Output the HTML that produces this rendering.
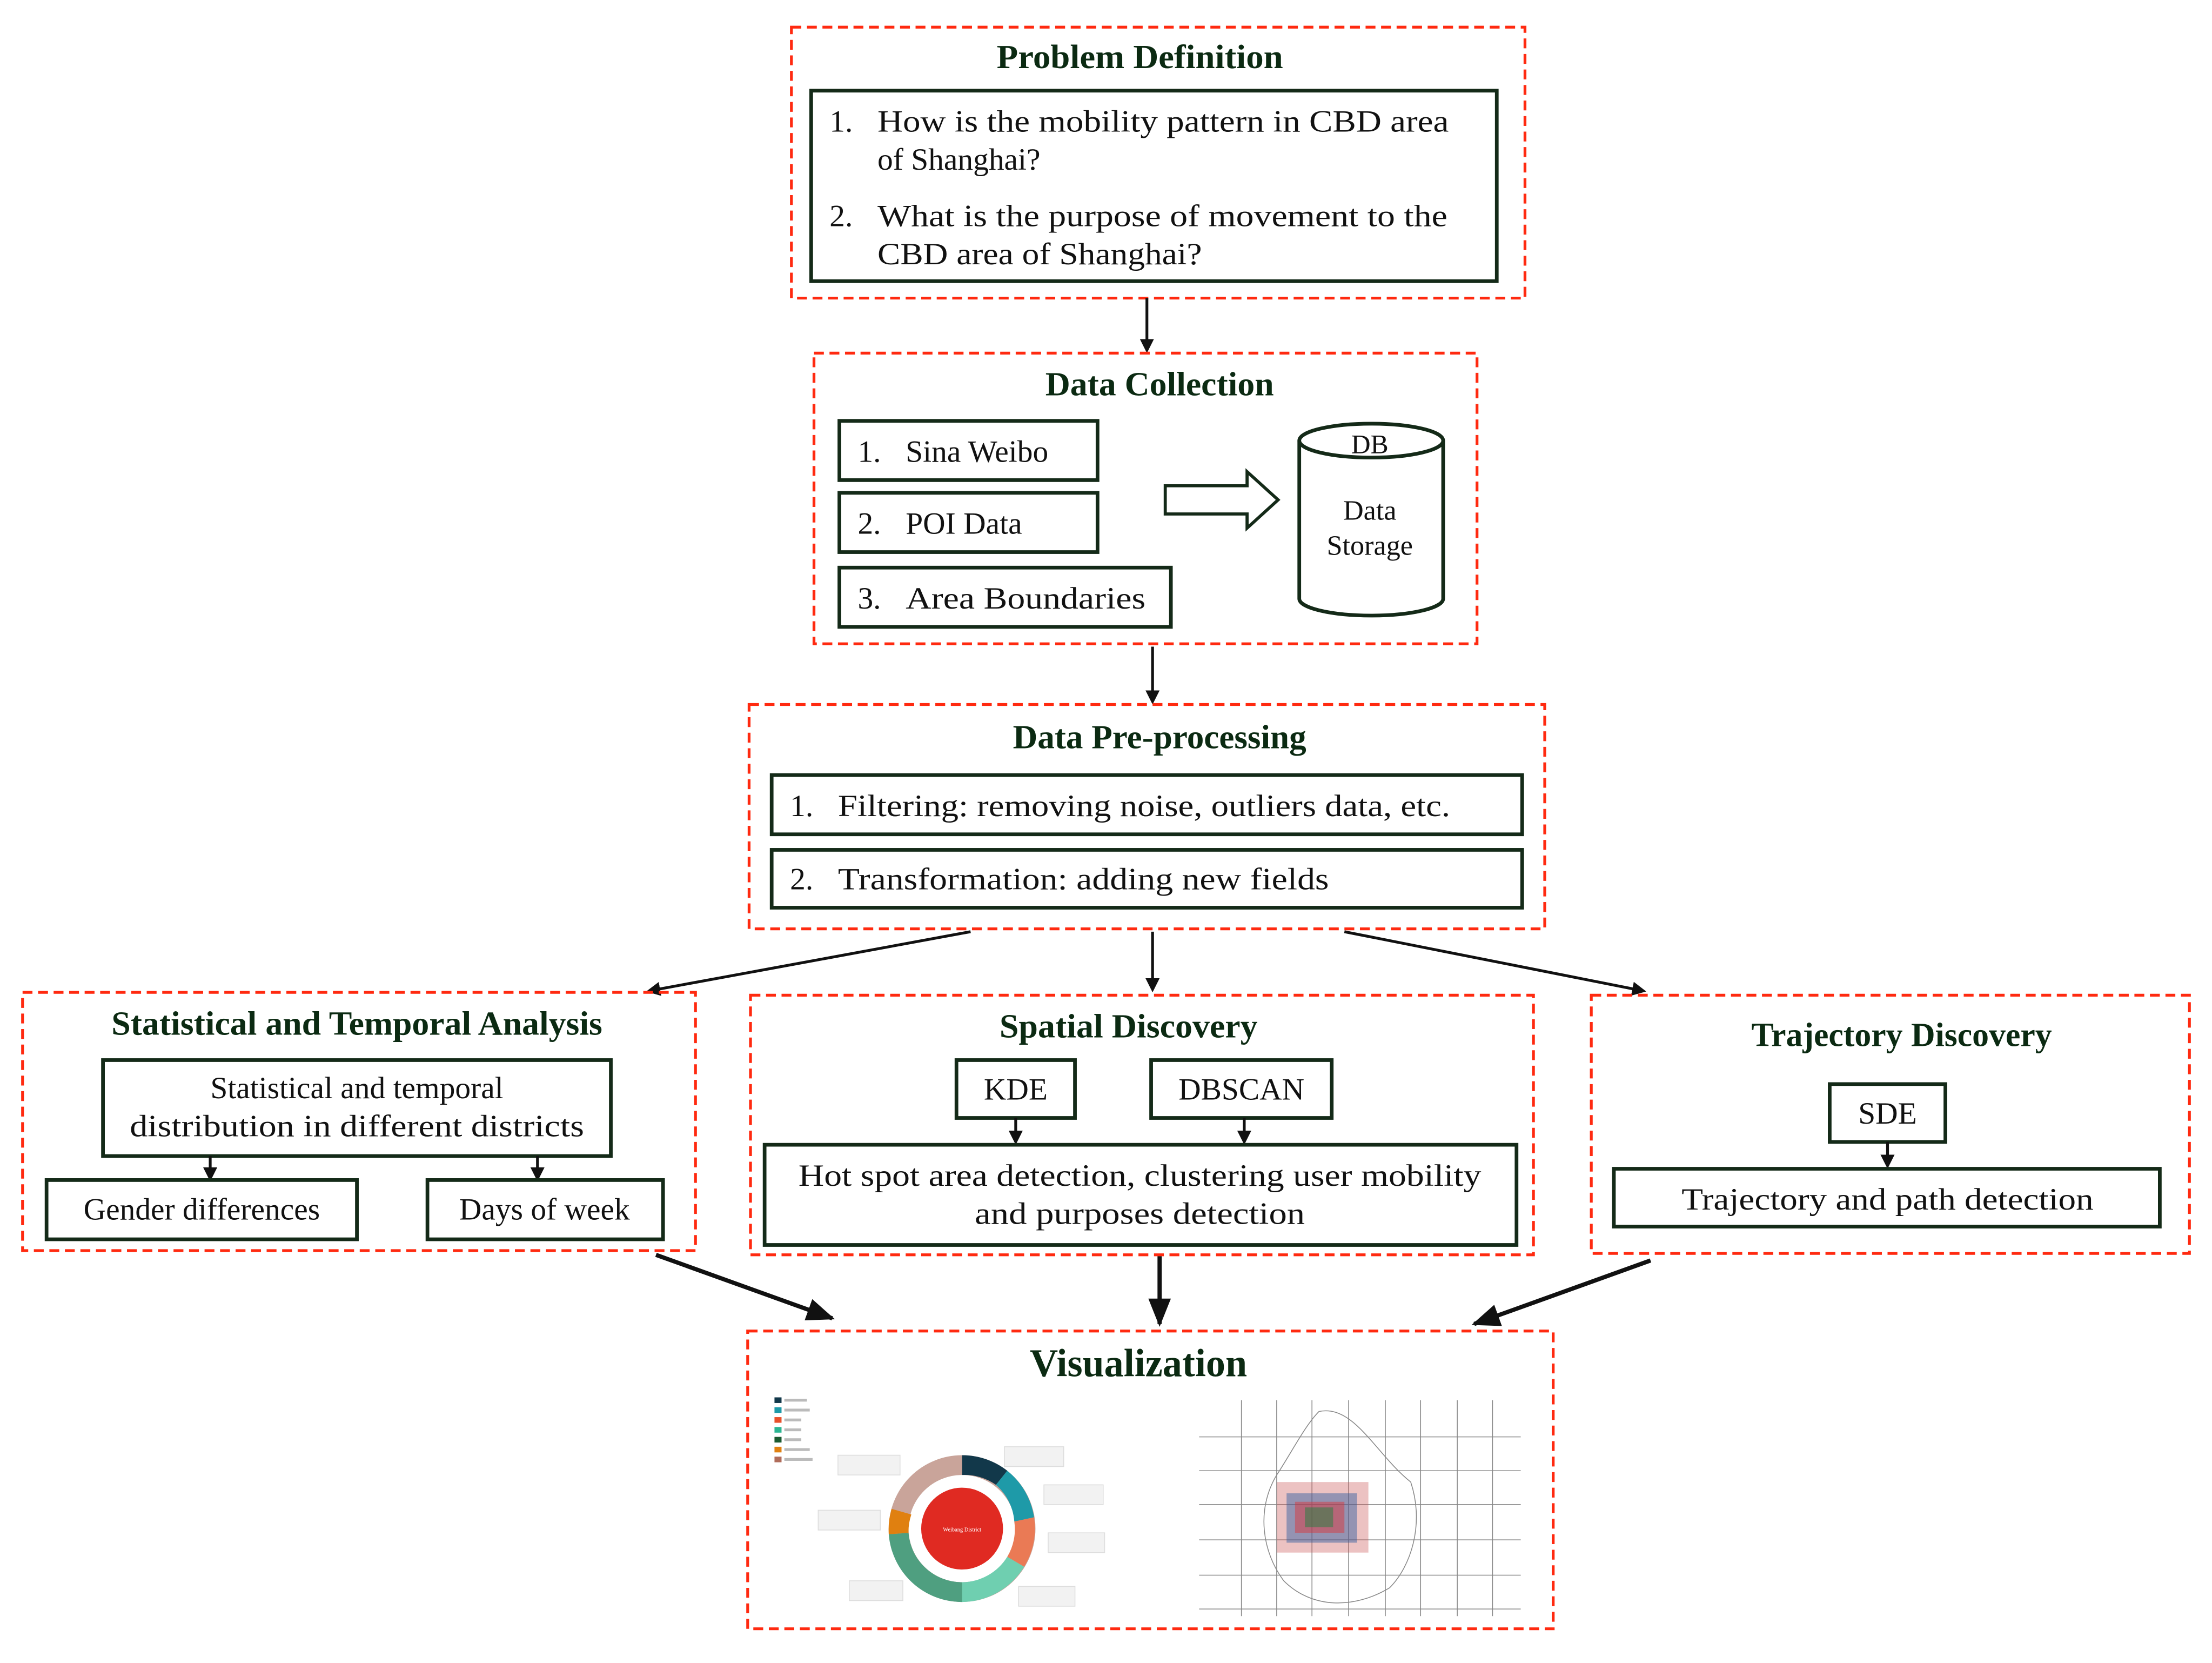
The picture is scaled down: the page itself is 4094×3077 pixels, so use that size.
<!DOCTYPE html>
<html><head><meta charset="utf-8"><style>
html,body{margin:0;padding:0;background:#fff;}
svg{display:block;}
text{font-family:"Liberation Serif",serif;fill:#111;}
.t{font-weight:bold;font-size:24px;fill:#0b2a12;text-anchor:middle;}
.b{font-size:22px;}
.c{text-anchor:middle;}
.d{fill:none;stroke:#ff2a10;stroke-width:2;stroke-dasharray:7,4;}
.x{fill:#fff;stroke:#142a18;stroke-width:2.6;}
.a{stroke:#111;stroke-width:2;fill:none;}
</style></head><body>
<svg width="4094" height="3077" viewBox="0 0 1568 1178" xmlns="http://www.w3.org/2000/svg">
<defs>
<marker id="m" markerWidth="10" markerHeight="10" refX="8" refY="5" orient="auto" markerUnits="userSpaceOnUse"><path d="M0,0 L10,5 L0,10 z" fill="#111"/></marker>
<marker id="mb" markerWidth="20" markerHeight="16" refX="18" refY="8" orient="auto" markerUnits="userSpaceOnUse"><path d="M0,0 L20,8 L0,16 z" fill="#111"/></marker>
</defs>
<!-- Problem Definition -->
<rect class="d" x="561" y="19" width="520" height="192"/>
<text class="t" x="808" y="48" textLength="203" lengthAdjust="spacingAndGlyphs">Problem Definition</text>
<rect class="x" x="575" y="64" width="486" height="135"/>
<text class="b" x="588" y="93">1.</text><text class="b" x="622" y="93" textLength="405" lengthAdjust="spacingAndGlyphs">How is the mobility pattern in CBD area</text>
<text class="b" x="622" y="120">of Shanghai?</text>
<text class="b" x="588" y="160">2.</text><text class="b" x="622" y="160" textLength="404" lengthAdjust="spacingAndGlyphs">What is the purpose of movement to the</text>
<text class="b" x="622" y="187" textLength="230" lengthAdjust="spacingAndGlyphs">CBD area of Shanghai?</text>
<line class="a" x1="813" y1="211" x2="813" y2="248" marker-end="url(#m)"/>
<!-- Data Collection -->
<rect class="d" x="577" y="250" width="470" height="206"/>
<text class="t" x="822" y="280" textLength="162" lengthAdjust="spacingAndGlyphs">Data Collection</text>
<rect class="x" x="595" y="298" width="183" height="42"/>
<text class="b" x="608" y="327">1.</text><text class="b" x="642" y="327">Sina Weibo</text>
<rect class="x" x="595" y="349" width="183" height="42"/>
<text class="b" x="608" y="378">2.</text><text class="b" x="642" y="378">POI Data</text>
<rect class="x" x="595" y="402" width="235" height="42"/>
<text class="b" x="608" y="431">3.</text><text class="b" x="642" y="431" textLength="170" lengthAdjust="spacingAndGlyphs">Area Boundaries</text>
<path d="M826,344 L884,344 L884,334 L906,354 L884,374 L884,364 L826,364 z" fill="#fff" stroke="#142a18" stroke-width="2.2"/>
<path d="M921,312 L921,424 A51,12 0 0 0 1023,424 L1023,312" fill="#fff" stroke="#142a18" stroke-width="2.6"/>
<ellipse cx="972" cy="312" rx="51" ry="12" fill="#fff" stroke="#142a18" stroke-width="2.6"/>
<text class="c" x="971" y="321" style="font-size:19px">DB</text>
<text class="c" x="971" y="368" style="font-size:20px">Data</text>
<text class="c" x="971" y="393" style="font-size:20px">Storage</text>
<line class="a" x1="817" y1="458" x2="817" y2="497" marker-end="url(#m)"/>
<!-- Pre-processing -->
<rect class="d" x="531" y="499" width="564" height="159"/>
<text class="t" x="822" y="530" textLength="208" lengthAdjust="spacingAndGlyphs">Data Pre-processing</text>
<rect class="x" x="547" y="549" width="532" height="42"/>
<text class="b" x="560" y="578">1.</text><text class="b" x="594" y="578" textLength="434" lengthAdjust="spacingAndGlyphs">Filtering: removing noise, outliers data, etc.</text>
<rect class="x" x="547" y="602" width="532" height="41"/>
<text class="b" x="560" y="630">2.</text><text class="b" x="594" y="630" textLength="348" lengthAdjust="spacingAndGlyphs">Transformation: adding new fields</text>
<line class="a" x1="688" y1="660" x2="460" y2="702" marker-end="url(#m)"/>
<line class="a" x1="817" y1="660" x2="817" y2="701" marker-end="url(#m)"/>
<line class="a" x1="953" y1="660" x2="1165" y2="702" marker-end="url(#m)"/>
<!-- Statistical -->
<rect class="d" x="16" y="703" width="477" height="183"/>
<text class="t" x="253" y="733" textLength="348" lengthAdjust="spacingAndGlyphs">Statistical and Temporal Analysis</text>
<rect class="x" x="73" y="751" width="360" height="68"/>
<text class="b c" x="253" y="778">Statistical and temporal</text>
<text class="b c" x="253" y="805" textLength="322" lengthAdjust="spacingAndGlyphs">distribution in different districts</text>
<line class="a" x1="149" y1="819" x2="149" y2="835" marker-end="url(#m)"/>
<line class="a" x1="381" y1="819" x2="381" y2="835" marker-end="url(#m)"/>
<rect class="x" x="33" y="836" width="220" height="42"/>
<text class="b c" x="143" y="864">Gender differences</text>
<rect class="x" x="303" y="836" width="167" height="42"/>
<text class="b c" x="386" y="864">Days of week</text>
<!-- Spatial -->
<rect class="d" x="532" y="705" width="555" height="184"/>
<text class="t" x="800" y="735" textLength="183" lengthAdjust="spacingAndGlyphs">Spatial Discovery</text>
<rect class="x" x="678" y="751" width="84" height="41"/>
<text class="b c" x="720" y="779">KDE</text>
<rect class="x" x="816" y="751" width="128" height="41"/>
<text class="b c" x="880" y="779">DBSCAN</text>
<line class="a" x1="720" y1="792" x2="720" y2="809" marker-end="url(#m)"/>
<line class="a" x1="882" y1="792" x2="882" y2="809" marker-end="url(#m)"/>
<rect class="x" x="542" y="811" width="533" height="71"/>
<text class="b c" x="808" y="840" textLength="484" lengthAdjust="spacingAndGlyphs">Hot spot area detection, clustering user mobility</text>
<text class="b c" x="808" y="867" textLength="234" lengthAdjust="spacingAndGlyphs">and purposes detection</text>
<!-- Trajectory -->
<rect class="d" x="1128" y="705" width="424" height="183"/>
<text class="t" x="1348" y="741" textLength="213" lengthAdjust="spacingAndGlyphs">Trajectory Discovery</text>
<rect class="x" x="1297" y="768" width="82" height="41"/>
<text class="b c" x="1338" y="796">SDE</text>
<line class="a" x1="1338" y1="809" x2="1338" y2="826" marker-end="url(#m)"/>
<rect class="x" x="1144" y="828" width="387" height="41"/>
<text class="b c" x="1338" y="857" textLength="292" lengthAdjust="spacingAndGlyphs">Trajectory and path detection</text>
<!-- to visualization -->
<line x1="465" y1="889" x2="590" y2="934" stroke="#111" stroke-width="3" marker-end="url(#mb)"/>
<line x1="822" y1="890" x2="822" y2="938" stroke="#111" stroke-width="3" marker-end="url(#mb)"/>
<line x1="1170" y1="893" x2="1045" y2="938" stroke="#111" stroke-width="3" marker-end="url(#mb)"/>
<!-- Visualization -->
<rect class="d" x="530" y="943" width="571" height="211"/>
<text class="t" x="807" y="975" style="font-size:28px" textLength="154" lengthAdjust="spacingAndGlyphs">Visualization</text>
<!-- legend -->
<g>
<rect x="549" y="990" width="5" height="4" fill="#12384a"/><rect x="549" y="997" width="5" height="4" fill="#1e9aa8"/>
<rect x="549" y="1004" width="5" height="4" fill="#e8502a"/><rect x="549" y="1011" width="5" height="4" fill="#2bb592"/>
<rect x="549" y="1018" width="5" height="4" fill="#1a5a30"/><rect x="549" y="1025" width="5" height="4" fill="#e08010"/>
<rect x="549" y="1032" width="5" height="4" fill="#b06c5a"/>
<g fill="#bbb"><rect x="556" y="991" width="16" height="2"/><rect x="556" y="998" width="18" height="2"/><rect x="556" y="1005" width="12" height="2"/><rect x="556" y="1012" width="12" height="2"/><rect x="556" y="1019" width="12" height="2"/><rect x="556" y="1026" width="18" height="2"/><rect x="556" y="1033" width="20" height="2"/></g>
</g>
<!-- donut -->
<g transform="translate(682,1083)">
<circle r="45" fill="none" stroke="#c9a49a" stroke-width="14"/>
<path d="M0,-52 A52,52 0 0 1 32,-41 L24,-31 A38,38 0 0 0 0,-38 z" fill="#12384a"/>
<path d="M32,-41 A52,52 0 0 1 51,-8 L37,-5 A38,38 0 0 0 24,-31 z" fill="#1e9aa8"/>
<path d="M51,-8 A52,52 0 0 1 44,27 L32,20 A38,38 0 0 0 37,-5 z" fill="#ea7a55"/>
<path d="M44,27 A52,52 0 0 1 0,52 L0,38 A38,38 0 0 0 32,20 z" fill="#6fcfb0"/>
<path d="M0,52 A52,52 0 0 1 -52,4 L-38,3 A38,38 0 0 0 0,38 z" fill="#4f9f80"/>
<path d="M-52,4 A52,52 0 0 1 -50,-14 L-36,-10 A38,38 0 0 0 -38,3 z" fill="#e08010"/>
<circle r="29" fill="#e02a22"/>
<text x="0" y="2" text-anchor="middle" style="font-size:4px;fill:#fff">Weibang District</text>
</g>
<g fill="#f2f2f2" stroke="#ddd" stroke-width="0.6">
<rect x="594" y="1031" width="44" height="14"/><rect x="712" y="1025" width="42" height="14"/>
<rect x="740" y="1052" width="42" height="14"/><rect x="743" y="1086" width="40" height="14"/>
<rect x="580" y="1070" width="44" height="14"/><rect x="602" y="1120" width="38" height="14"/>
<rect x="722" y="1124" width="40" height="14"/>
</g>
<!-- map -->
<g stroke="#888" stroke-width="0.6" fill="none">
<line x1="880" y1="992" x2="880" y2="1145"/><line x1="905" y1="992" x2="905" y2="1145"/>
<line x1="930" y1="992" x2="930" y2="1145"/><line x1="956" y1="992" x2="956" y2="1145"/>
<line x1="982" y1="992" x2="982" y2="1145"/><line x1="1007" y1="992" x2="1007" y2="1145"/>
<line x1="1033" y1="992" x2="1033" y2="1145"/><line x1="1058" y1="992" x2="1058" y2="1145"/>
<line x1="850" y1="1018" x2="1078" y2="1018"/><line x1="850" y1="1042" x2="1078" y2="1042"/>
<line x1="850" y1="1066" x2="1078" y2="1066"/><line x1="850" y1="1091" x2="1078" y2="1091"/>
<line x1="850" y1="1116" x2="1078" y2="1116"/><line x1="850" y1="1140" x2="1078" y2="1140"/>
<path d="M935,1000 C960,995 975,1030 1000,1050 C1010,1080 1000,1110 985,1125 C960,1140 930,1140 910,1120 C895,1100 890,1070 905,1045 C915,1030 925,1010 935,1000 z"/>
</g>
<g>
<rect x="905" y="1050" width="65" height="50" fill="#c85050" opacity="0.35"/>
<rect x="912" y="1058" width="50" height="35" fill="#2a5aa0" opacity="0.45"/>
<rect x="918" y="1064" width="35" height="22" fill="#e03030" opacity="0.45"/>
<rect x="925" y="1068" width="20" height="14" fill="#208040" opacity="0.5"/>
</g>
</svg>
</body></html>
